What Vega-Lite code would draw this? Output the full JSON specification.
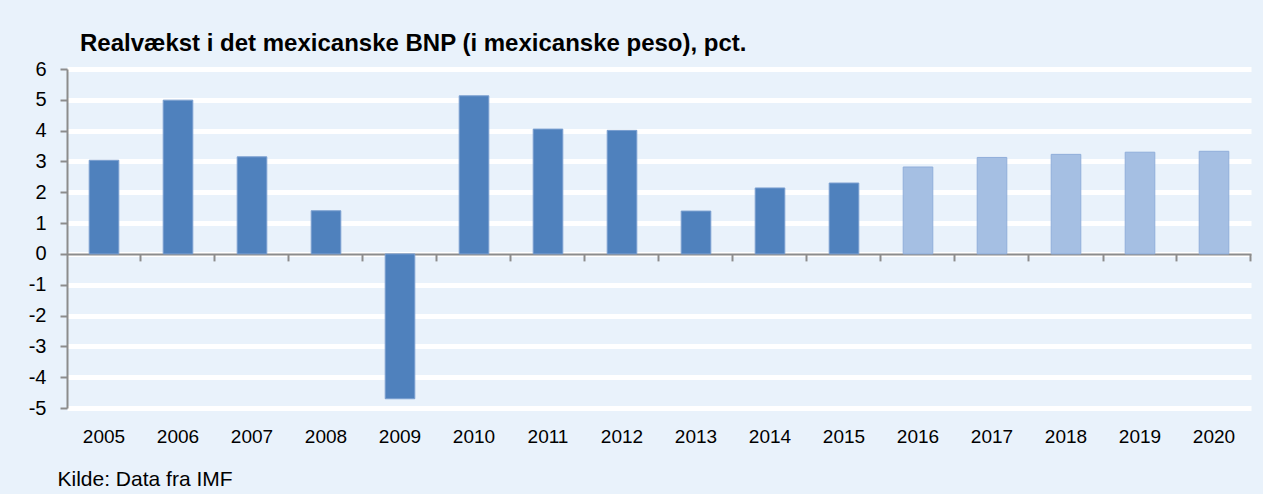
{
  "$schema": "https://vega.github.io/schema/vega-lite/v6.json",
  "width": 1184,
  "height": 339,
  "autosize": {"type": "none"},
  "padding": {"left": 67, "top": 69, "right": 12, "bottom": 86},
  "background": "#E9F2FB",
  "title": {
    "text": "Realvækst i det mexicanske BNP (i mexicanske peso), pct.",
    "anchor": "start",
    "frame": "group",
    "dx": 13,
    "offset": 3,
    "font": "Liberation Sans",
    "fontSize": 24,
    "fontWeight": "bold",
    "color": "#000000"
  },
  "data": {
    "values": [
      {"aar": "2005", "vaekst": 3.04, "type": "Faktisk"},
      {"aar": "2006", "vaekst": 4.99, "type": "Faktisk"},
      {"aar": "2007", "vaekst": 3.15, "type": "Faktisk"},
      {"aar": "2008", "vaekst": 1.40, "type": "Faktisk"},
      {"aar": "2009", "vaekst": -4.70, "type": "Faktisk"},
      {"aar": "2010", "vaekst": 5.13, "type": "Faktisk"},
      {"aar": "2011", "vaekst": 4.05, "type": "Faktisk"},
      {"aar": "2012", "vaekst": 4.01, "type": "Faktisk"},
      {"aar": "2013", "vaekst": 1.39, "type": "Faktisk"},
      {"aar": "2014", "vaekst": 2.14, "type": "Faktisk"},
      {"aar": "2015", "vaekst": 2.30, "type": "Faktisk"},
      {"aar": "2016", "vaekst": 2.82, "type": "Prognose"},
      {"aar": "2017", "vaekst": 3.13, "type": "Prognose"},
      {"aar": "2018", "vaekst": 3.23, "type": "Prognose"},
      {"aar": "2019", "vaekst": 3.30, "type": "Prognose"},
      {"aar": "2020", "vaekst": 3.33, "type": "Prognose"}
    ]
  },
  "config": {
    "view": {"stroke": null},
    "axis": {"labelFont": "Liberation Sans", "titleFont": "Liberation Sans"}
  },
  "mark": {"type": "bar", "strokeWidth": 1},
  "encoding": {
    "x": {
      "field": "aar",
      "type": "ordinal",
      "scale": {"paddingInner": 0.6, "paddingOuter": 0.3},
      "axis": {
        "title": "Kilde: Data fra IMF",
        "titleFontSize": 21,
        "titleFontWeight": "normal",
        "titleColor": "#000000",
        "titleAlign": "left",
        "titleX": -10,
        "titlePadding": 22,
        "labelAngle": 0,
        "labelFontSize": 19,
        "labelColor": "#000000",
        "labelPadding": 167,
        "offset": -154.1,
        "bandPosition": 1.75,
        "tickSize": 7,
        "tickColor": "#8C8C8C",
        "tickWidth": 2,
        "domainColor": "#8C8C8C",
        "domainWidth": 2,
        "grid": false
      }
    },
    "y": {
      "field": "vaekst",
      "type": "quantitative",
      "scale": {"domain": [-5, 6], "nice": false, "zero": false},
      "axis": {
        "title": null,
        "values": [-5, -4, -3, -2, -1, 0, 1, 2, 3, 4, 5, 6],
        "labelExpr": "datum.value < 0 ? '-' + abs(datum.value) : '' + datum.value",
        "labelFontSize": 20,
        "labelColor": "#000000",
        "labelPadding": 14,
        "tickSize": 7,
        "tickColor": "#8C8C8C",
        "tickWidth": 2,
        "domainColor": "#8C8C8C",
        "domainWidth": 2,
        "grid": true,
        "gridColor": "#FFFFFF",
        "gridWidth": 5,
        "gridOpacity": 1
      }
    },
    "color": {
      "field": "type",
      "type": "nominal",
      "scale": {"domain": ["Faktisk", "Prognose"], "range": ["#4F81BD", "#A5BFE3"]},
      "legend": null
    },
    "stroke": {
      "field": "type",
      "type": "nominal",
      "scale": {"domain": ["Faktisk", "Prognose"], "range": ["#7A9FD0", "#90AEDA"]},
      "legend": null
    }
  }
}
